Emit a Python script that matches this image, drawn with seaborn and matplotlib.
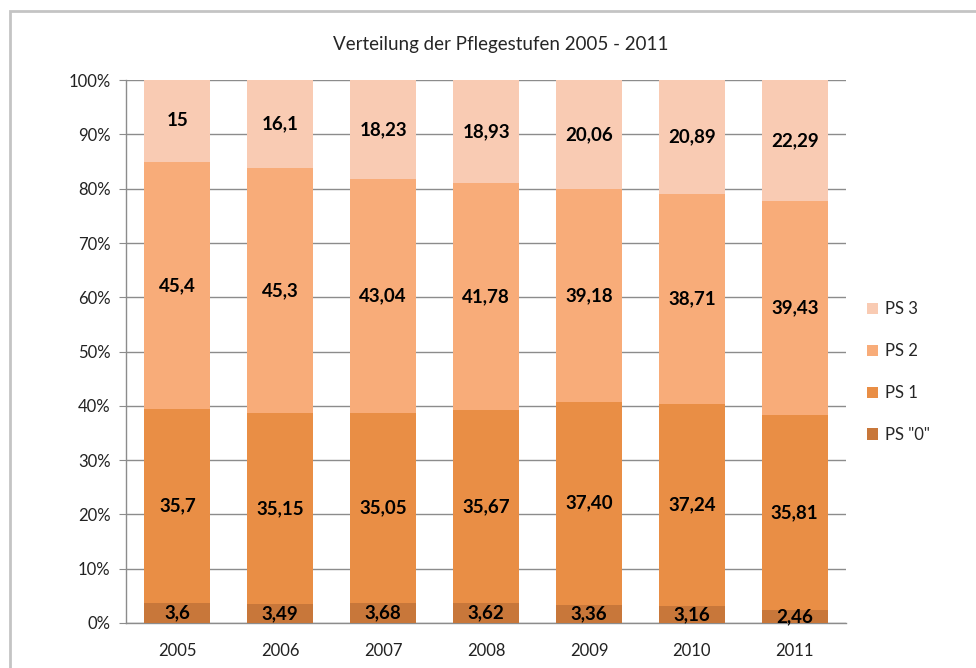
import pandas as pd
import matplotlib.pyplot as plt
import seaborn as sns
from matplotlib.patches import Patch, Rectangle
from matplotlib.ticker import PercentFormatter

years = [2005, 2006, 2007, 2008, 2009, 2010, 2011]
levels = ['PS 3', 'PS 2', 'PS 1', 'PS "0"']

# values as printed in the chart (German decimal comma)
ps0 = ['3,6', '3,49', '3,68', '3,62', '3,36', '3,16', '2,46']
ps1 = ['35,7', '35,15', '35,05', '35,67', '37,40', '37,24', '35,81']
ps2 = ['45,4', '45,3', '43,04', '41,78', '39,18', '38,71', '39,43']
ps3 = ['15', '16,1', '18,23', '18,93', '20,06', '20,89', '22,29']

colors = {'PS 3': '#F9CBB3', 'PS 2': '#F8AC79', 'PS 1': '#E98E45', 'PS "0"': '#C8773A'}

labels = {'PS "0"': ps0, 'PS 1': ps1, 'PS 2': ps2, 'PS 3': ps3}
rows = []
for lvl, vals in labels.items():
    for y, v in zip(years, vals):
        rows.append({'year': y, 'level': lvl, 'value': float(v.replace(',', '.')), 'label': v})
df = pd.DataFrame(rows)

sns.set_style('white')
plt.rcParams['font.family'] = ['Lato', 'DejaVu Sans']

fig = plt.figure(figsize=(9.76, 6.68), dpi=100)
ax = fig.add_axes([0.129, 0.0674, 0.738, 0.8126])

sns.histplot(data=df, x='year', weights='value', hue='level', hue_order=levels,
             multiple='fill', discrete=True, shrink=0.64, palette=colors,
             linewidth=0, alpha=1, legend=False, ax=ax, zorder=3)

# bar labels at segment centers
totals = df.groupby('year')['value'].sum()
for y in years:
    base = 0.0
    for lvl in ['PS "0"', 'PS 1', 'PS 2', 'PS 3']:
        r = df[(df.year == y) & (df.level == lvl)].iloc[0]
        h = r['value'] / totals[y]
        ax.text(y, base + h / 2, r['label'], ha='center', va='center',
                fontsize=13.5, fontweight='bold', color='black', zorder=4)
        base += h

ax.set_xlim(2004.5, 2011.5)
ax.set_ylim(0, 1)
ax.set_xticks(years)
ax.set_xticklabels([str(y) for y in years])
ax.set_yticks([i / 10 for i in range(11)])
ax.yaxis.set_major_formatter(PercentFormatter(1.0, decimals=0))
ax.set_xlabel('')
ax.set_ylabel('')
ax.grid(axis='y', color='#8c8c8c', linewidth=1, zorder=0)
ax.set_axisbelow(True)
for s in ['top', 'right']:
    ax.spines[s].set_visible(False)
for s in ['left', 'bottom']:
    ax.spines[s].set_color('#8c8c8c')
    ax.spines[s].set_linewidth(1)
ax.tick_params(axis='y', left=True, length=5, color='#8c8c8c', labelsize=12, pad=6, labelcolor='#222222')
ax.tick_params(axis='x', bottom=False, labelsize=12, pad=11, labelcolor='#222222')

handles = [Patch(facecolor=colors[l], edgecolor='none') for l in levels]
fig.legend(handles, levels, loc='center left', bbox_to_anchor=(0.873, 0.443),
           frameon=False, handlelength=0.65, handleheight=0.65, handletextpad=0.4,
           labelspacing=1.55, fontsize=12)

fig.text(0.513, 0.934, 'Verteilung der Pflegestufen 2005 - 2011',
         ha='center', va='center', fontsize=13.5)

fig.patches.append(Rectangle((0.0102, -0.1), 1.2, 0.9835 + 0.1, transform=fig.transFigure,
                             fill=False, edgecolor='#c4c4c4', linewidth=2))

fig.savefig('out.png', dpi=100)
